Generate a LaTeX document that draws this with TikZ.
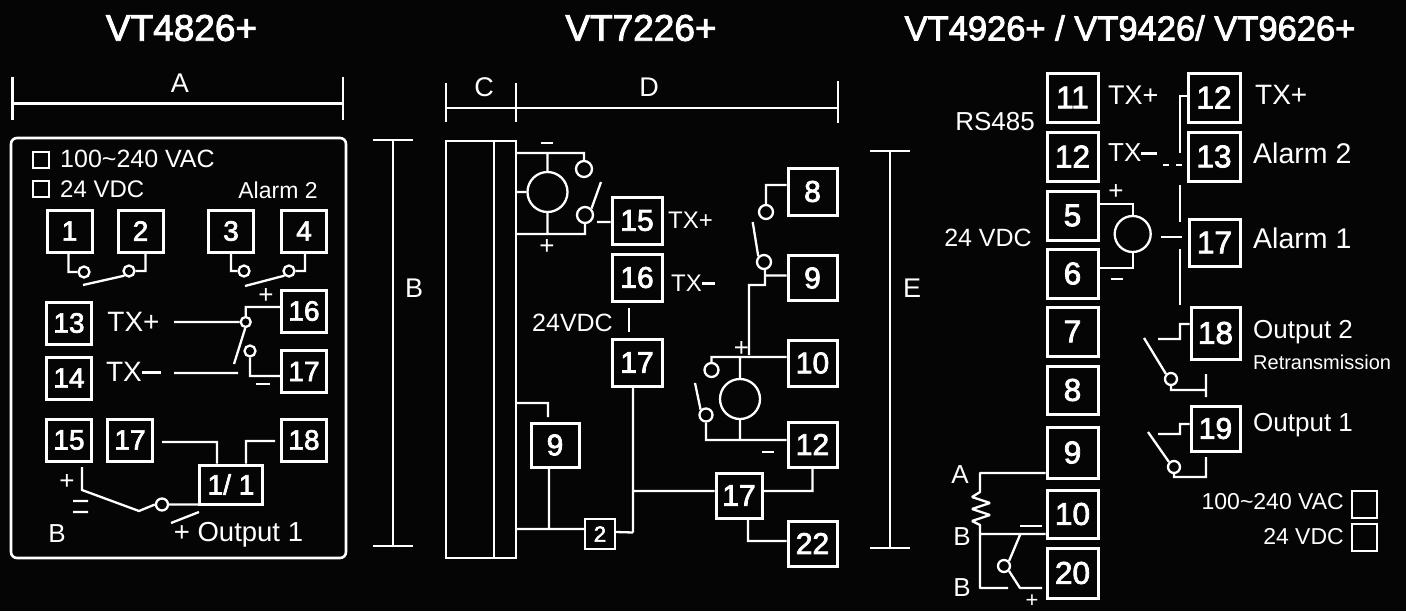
\documentclass[tikz,border=0pt]{standalone}
\usepackage{fontspec}
\setmainfont{Liberation Sans}
\newfontfamily\termfont[FakeBold=2.5]{Liberation Sans}
\usetikzlibrary{calc}
\tikzset{
  wire/.style={line width=2.3pt,white},
  term/.style={draw,white,text=white,rectangle,line width=3pt,inner sep=0pt,minimum width=#1,font=\termfont\fontsize{28}{28}\selectfont},
  term/.default=45pt,
  midterm/.style={font=\termfont\fontsize{30}{30}\selectfont},
  bigterm/.style={font=\termfont\fontsize{31.5}{31.5}\selectfont},
  contact/.style={draw,white,circle,line width=2.3pt,inner sep=0pt,minimum size=#1},
  contact/.default=16pt,
  meter/.style={draw,white,circle,line width=2.3pt,inner sep=0pt,minimum size=#1},
  chk/.style={draw,white,rectangle,line width=2.3pt,inner sep=0pt,minimum size=16pt},
  txt/.style={text=white,inner sep=0pt,font=\fontsize{#1}{#1}\selectfont},
  txt/.default=26,
  title/.style={text=white,inner sep=0pt,font=\termfont\fontsize{#1}{#1}\selectfont},
  title/.default=37
}
\begin{document}
\begin{tikzpicture}[x=1pt,y=-1pt]
      \fill[black!98!white] (0,0) rectangle (1406,611);
      \useasboundingbox (0,0) rectangle (1406,611);
      % titles
      \node[title] (tA) at (181.5,28) {VT4826+};
      \node[title] (tB) at (641,28) {VT7226+};
      \node[title=34.5] (tC) at (1130,28) {VT4926+ / VT9426/ VT9626+};
      % dimensions
      \draw[wire] (12.5,103.5) coordinate (dAl) -- (343,103.5) coordinate (dAr)
        ($(dAl)+(0,-27)$) -- ($(dAl)+(0,16.5)$)
        ($(dAr)+(0,-27)$) -- ($(dAr)+(0,16.5)$);
      \node[txt=27] (lA) at (180,83) {A};
      \draw[wire] (393,140) coordinate (dBt) -- (393,546) coordinate (dBb)
        ($(dBt)+(-20,0)$) -- ($(dBt)+(20,0)$)
        ($(dBb)+(-20,0)$) -- ($(dBb)+(20,0)$);
      \node[txt=27] (lB) at (414,288) {B};
      \draw[wire] (446,108) coordinate (dCl) -- (516,108) coordinate (dCm) -- (838,108) coordinate (dCr)
        ($(dCl)+(0,-25)$) -- ($(dCl)+(0,14)$)
        ($(dCm)+(0,-25)$) -- ($(dCm)+(0,14)$)
        ($(dCr)+(0,-27)$) -- ($(dCr)+(0,15)$);
      \node[txt=27] (lC) at (484,87) {C};
      \node[txt=27] (lD) at (649,87) {D};
      \draw[wire] (890,151) coordinate (dEt) -- (890,548) coordinate (dEb)
        ($(dEt)+(-20,0)$) -- ($(dEt)+(20,0)$)
        ($(dEb)+(-20,0)$) -- ($(dEb)+(20,0)$);
      \node[txt=27] (lE) at (912,288) {E};

      % VT4826+
      \node[draw,white,line width=2.6pt,rounded corners=6pt,minimum width=335pt,minimum height=420pt,inner sep=0pt] (frA) at (178.5,348) {};
      \node[chk] (ckA1) at (41,160) {};
      \node[chk] (ckA2) at (41,189) {};
      \node[txt=25,anchor=west] (vA1) at (60,159) {100\textasciitilde240 VAC};
      \node[txt=24,anchor=west] (vA2) at (60,189) {24 VDC};
      \node[txt=23] (alA) at (278,190) {Alarm 2};
      \node[term,minimum height=42pt] (a1) at (69.5,231) {1};
      \node[term,minimum height=42pt] (a2) at (140.5,231) {2};
      \node[term,minimum height=42pt] (a3) at (231,231) {3};
      \node[term,minimum height=42pt] (a4) at (304,231) {4};
      \node[term,minimum height=42pt] (a13) at (69,323) {13};
      \node[term,minimum height=42pt] (a14) at (69,378) {14};
      \node[term,minimum height=42pt] (a16) at (304,311) {16};
      \node[term,minimum height=42pt] (a17) at (304,371.5) {17};
      \node[term,minimum height=42pt] (a15) at (69,440) {15};
      \node[term,minimum height=42pt] (a17b) at (130,440) {17};
      \node[term,minimum height=42pt] (a18) at (304,440) {18};
      \node[term=63pt,minimum height=39pt] (a11) at (231,484.5) {1/ 1};
      \node[contact=11pt] (ca1) at (84,272) {};
      \node[contact=11pt] (ca2) at (129,271) {};
      \node[contact=11pt] (ca3) at (244,271) {};
      \node[contact=11pt] (ca4) at (289,271) {};
      \node[contact=10pt] (ca5) at (245.7,322) {};
      \node[contact=11pt] (ca6) at (250,351) {};
      \node[contact=12pt] (ca7) at (162,504.5) {};
      \draw[wire]
        ($(a1.south)+(-1,0)$) |- (ca1.west)
        (ca2.east) -| ($(a2.south)+(5,0)$)
        ($(a3.south)+(0,0)$) |- (ca3.west)
        (ca4.east) -| ($(a4.south)+(1,0)$)
        (83,285) coordinate (ba1) -- (ca2.south west)
        (245,286) coordinate (ba2) -- (ca4.south west);
      \node[txt=28] (xA1) at (133.5,322) {TX+};
      \node[txt=28] (xA2) at (133.5,372) {TX\rule[0.28em]{0.68em}{0.11em}};
      \draw[wire]
        (174,322) coordinate (xw1) -- (ca5.west)
        (ca5.north) |- ($(a16.west)+(0,-4)$)
        (ca5.south) ++(-0.5,0) -- (234,364) coordinate (ba3)
        (174,373) coordinate (xw2) -- (238,373) coordinate (xw3)
        (ca6.south) |- ($(a17.west)+(0,4.5)$);
      \node[txt=26] (pA1) at (266,296) {+};
      \node[txt=26] (mA1) at (263,384) {\rule{14pt}{2.6pt}};
      \draw[wire]
        (162,442) coordinate (w17) -| ($(a11.north)+(-14,0)$)
        ($(a18.west)+(-5,1)$) -| ($(a11.north)+(15,0)$)
        (82,467) coordinate (w15) -- (82,490) -- (139,511) -- (ca7.west)
        (ca7.east) -- ($(a11.west)+(0,20)$)
        (171,523) coordinate (ba4) -- (199,512) coordinate (ba5)
        (73,501) coordinate (eq1) -- (88,501) coordinate (eq2)
        (73,512) coordinate (eq3) -- (88,512) coordinate (eq4);
      \node[txt=26] (pA2) at (67,482) {+};
      \node[txt=26] (lBA) at (57,534) {B};
      \node[txt=27.5] (oA) at (238.5,535) {+ Output 1};

      % VT7226+
      \node[draw,white,line width=2.3pt,minimum width=70pt,minimum height=417pt,inner sep=0pt] (rack) at (481,349.5) {};
      \draw[wire] ($(rack.north west)+(49,0)$) coordinate (rk1) -- ($(rack.south west)+(49,0)$) coordinate (rk2);
      \node[meter=40pt] (mtB1) at (547.5,192) {};
      \node[meter=40pt] (mtB2) at (740,399) {};
      \node[contact=16pt] (cb1) at (584,169) {};
      \node[contact=16pt] (cb2) at (585,215) {};
      \node[contact=14pt] (cb3) at (766,212) {};
      \node[contact=14pt] (cb4) at (764,262) {};
      \node[contact=14pt] (cb5) at (711.5,370) {};
      \node[contact=13pt] (cb6) at (706,415) {};
      \node[term=50pt,midterm,minimum height=47pt] (b15) at (637,220.5) {15};
      \node[term=50pt,midterm,minimum height=47pt] (b16) at (637,277.5) {16};
      \node[term=50pt,midterm,minimum height=47pt] (b17) at (637,362.5) {17};
      \node[term=49pt,midterm,minimum height=47pt] (b8) at (812.5,191.5) {8};
      \node[term=49pt,midterm,minimum height=45pt] (b9) at (812.5,278) {9};
      \node[term=49pt,midterm,minimum height=46pt] (b10) at (812.5,363) {10};
      \node[term=49pt,midterm,minimum height=45pt] (b12) at (812.5,444.5) {12};
      \node[term=49pt,midterm,minimum height=45pt] (b22) at (812.5,543.5) {22};
      \node[term=46pt,midterm,minimum height=45pt] (b17b) at (739,495.5) {17};
      \node[term=48pt,midterm,minimum height=44pt] (b9b) at (555,445) {9};
      \node[draw,white,text=white,line width=2.3pt,inner sep=0pt,minimum size=30pt,font=\termfont\fontsize{22}{22}\selectfont] (b2) at (600,534) {2};
      \draw[wire]
        ($(rack.east)+(0,-196.5)$) coordinate (r1) -| (cb1.north)
        (r1 -| mtB1.north) -- (mtB1.north)
        ($(rack.east)+(0,-157.5)$) coordinate (r2) -- (mtB1.west)
        ($(rack.east)+(0,-115.5)$) coordinate (r3) -| (cb2.south)
        (mtB1.south) -- (r3 -| mtB1.south)
        (cb2.north east) -- (601,182) coordinate (bb1)
        (597,222) coordinate (sb1) -- ($(b15.west)+(0,1.5)$);
      \node[txt=24,anchor=west] (xB1) at (668,220) {TX+};
      \node[txt=24,anchor=west] (xB2) at (671,283) {TX\rule[0.28em]{0.55em}{0.09em}};
      \node[txt=24] (mB1) at (547,143) {\rule{12pt}{2.6pt}};
      \node[txt=26] (pB1) at (547,247) {+};
      \node[txt=25,anchor=east] (vB) at (613,323) {24VDC};
      \draw[wire] (629,308) coordinate (v1) -- (629,332) coordinate (v2);
      \draw[wire]
        ($(b8.west)+(0,-6.5)$) -| (cb3.north)
        (752.7,222) coordinate (bb2) -- (cb4.north west)
        (cb4.south) ++(1,0) |- ($(b9.west)+(0,-2.5)$)
        (cb4.south) ++(1,0) -- (765,285) -| (749,355) coordinate (j10);
      \draw[wire]
        ($(b10.west)+(0,-6)$) -| (cb5.north)
        (mtB2.north) -- (740,357)
        (mtB2.south) -- (740,440)
        ($(b12.west)+(0,-4.5)$) -| (cb6.south)
        (695,383) coordinate (bb3) -- (cb6.north west);
      \node[txt=26] (pB2) at (741.5,349) {+};
      \node[txt=24] (mB2) at (768,452) {\rule{12pt}{2.6pt}};
      \draw[wire]
        (b17.south) ++(-4,0) coordinate (w1) -- ($(b17.south)+(-4,145)$) coordinate (w2)
        (b2.east) ++(0,-2) -- (w2)
        ($(b17b.west)+(0,-4.5)$) coordinate (w3) -- (w3 -| w1)
        ($(b17b.east)+(0,-4.5)$) -| (b12.south)
        (b17b.south) ++(9,0) |- ($(b22.west)+(0,-2.5)$)
        ($(rack.east)+(0,53.5)$) coordinate (r4) -| (548,417) coordinate (w9)
        ($(rack.east)+(0,179.5)$) coordinate (r5) -- (r5 -| b2.west)
        (b9b.south) ++(-6,0) coordinate (w8) -- (r5 -| w8);

      % VT4926+ / VT9426/ VT9626+
      \node[term=51pt,bigterm,minimum height=49pt] (c11) at (1072.5,97.5) {11};
      \node[term=51pt,bigterm,minimum height=49pt] (c12) at (1072.5,156.5) {12};
      \node[term=51pt,bigterm,minimum height=49pt] (c5) at (1072.5,215.5) {5};
      \node[term=51pt,bigterm,minimum height=49pt] (c6) at (1072.5,273.5) {6};
      \node[term=51pt,bigterm,minimum height=49pt] (c7) at (1072.5,331.5) {7};
      \node[term=51pt,bigterm,minimum height=48pt] (c8) at (1072.5,390) {8};
      \node[term=51pt,bigterm,minimum height=51pt] (c9) at (1072.5,452.5) {9};
      \node[term=51pt,bigterm,minimum height=48pt] (c10) at (1072.5,514) {10};
      \node[term=51pt,bigterm,minimum height=50pt] (c20) at (1072.5,573) {20};
      \node[term=52pt,bigterm,minimum height=49pt] (d12) at (1214,97.5) {12};
      \node[term=52pt,bigterm,minimum height=49pt] (d13) at (1214,156.5) {13};
      \node[term=51pt,bigterm,minimum height=47pt] (d17) at (1214.5,242.5) {17};
      \node[term=49pt,bigterm,minimum height=52pt] (d18) at (1215.5,333) {18};
      \node[term=49pt,midterm,minimum height=45pt] (d19) at (1215.5,428.5) {19};
      \node[meter=36pt] (mtC) at (1132.7,234) {};
      \node[contact=12pt] (cc1) at (1171,379) {};
      \node[contact=12pt] (cc2) at (1174,467) {};
      \node[contact=12pt] (cc3) at (1004,566) {};
      \node[txt=26,anchor=east] (rs) at (1035,122) {RS485};
      \node[txt=27,anchor=west] (xC1) at (1108,95) {TX+};
      \node[txt=26,anchor=west] (xC2) at (1108,153) {TX\rule[0.28em]{0.6em}{0.09em}};
      \node[txt=28,anchor=west] (xD1) at (1255,95) {TX+};
      \node[txt=28.5,anchor=west] (alD2) at (1253,153) {Alarm 2};
      \node[txt=28.5,anchor=west] (alD1) at (1253,238) {Alarm 1};
      \node[txt=25,anchor=east] (vC) at (1032,238) {24 VDC};
      \node[txt=26] (pC) at (1116,192) {+};
      \node[txt=24] (mC) at (1117,279) {\rule{12pt}{2.6pt}};
      \draw[wire]
        ($(c5.east)+(0,-11.5)$) -| (mtC.north)
        ($(c6.east)+(0,-5.5)$) -| (mtC.south)
        (1160.7,237) coordinate (s17) -- ($(d17.west)+(-6,-5.5)$)
        ($(d12.west)+(0,-1.5)$) -| (1180,153) coordinate (v12)
        (1180,185) coordinate (v13) -- (1180,222) coordinate (v14)
        (1180,249) coordinate (v15) -- (1180,305) coordinate (v16);
      \draw[wire,dash pattern=on 6pt off 7pt] (1163,165) coordinate (ds1) -- (1183,165) coordinate (ds2);
      \draw[wire]
        ($(d18.west)+(0,-9)$) -| (1180,339) -- (1158,339) coordinate (s18)
        (1144,338) coordinate (bd1) -- (cc1.north west)
        (cc1.south) |- (1206,390) coordinate (g1)
        (1206,374) coordinate (g2) -- (1206,397) coordinate (g3)
        ($(d19.west)+(0,-4.5)$) -| (1180,434) -- (1158,434) coordinate (s19)
        (1148,432) coordinate (bd2) -- (cc2.north west)
        (cc2.south) |- (1206,477) -- (1206,457) coordinate (g4);
      \node[txt=26,anchor=west] (oD2) at (1253,332) {Output 2};
      \node[txt=20,anchor=west] (rt) at (1253,362) {Retransmission};
      \node[txt=26,anchor=west] (oD1) at (1253,425) {Output 1};
      \node[txt=23,anchor=east] (vD1) at (1344,502) {100\textasciitilde240 VAC};
      \node[txt=23,anchor=east] (vD2) at (1344,537) {24 VDC};
      \node[chk,minimum width=25pt,minimum height=27pt] (ckD1) at (1364.5,504.5) {};
      \node[chk,minimum width=25pt,minimum height=27pt] (ckD2) at (1364.5,537.5) {};
      \node[txt=26] (lAC) at (960,475) {A};
      \node[txt=26] (lBC1) at (962,537) {B};
      \node[txt=26] (lBC2) at (962,588) {B};
      \draw[wire,line join=bevel]
        ($(c9.west)+(0,20.5)$) -| (980,492) coordinate (rt1)
        -- ++(-8,5) -- ++(18,6) -- ++(-18,6) -- ++(18,6) -- ++(-18,6) -- (980,525) coordinate (rt2)
        -- (980,588) -- (1008,588) coordinate (ct1)
        (980,534) coordinate (rt3) -- ($(c10.west)+(0,20)$)
        (1020,535) coordinate (ct2) -- (cc3.north east)
        (cc3.south east) -- (1020,588) -- (1042,588) coordinate (ct3);
      \node[txt=24] (mC2) at (1031,526) {\rule{22pt}{2.6pt}};
      \node[txt=22] (pC2) at (1032,601) {+};
\end{tikzpicture}
\end{document}
